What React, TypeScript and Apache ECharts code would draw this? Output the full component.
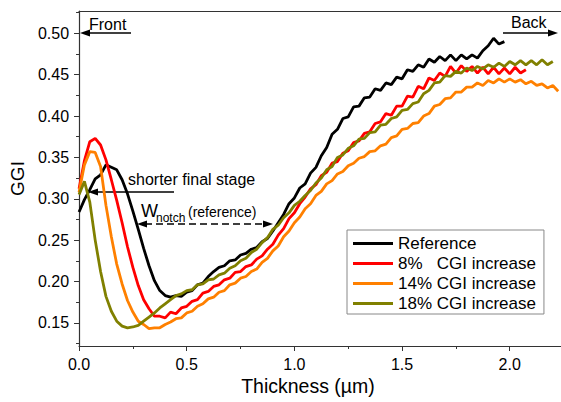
import React, { useEffect, useRef } from "react";
import * as echarts from "echarts";

const xGrid = [
  0.0, 0.025, 0.05, 0.075, 0.1, 0.125, 0.15, 0.175, 0.2, 0.225, 0.25, 0.275, 0.3, 0.325, 0.35, 0.375,
  0.4, 0.425, 0.45, 0.475, 0.5, 0.525, 0.55, 0.575, 0.6, 0.625, 0.65, 0.675, 0.7, 0.725, 0.75, 0.775,
  0.8, 0.825, 0.85, 0.875, 0.9, 0.925, 0.95, 0.975, 1.0, 1.025, 1.05, 1.075, 1.1, 1.125, 1.15, 1.175,
  1.2, 1.225, 1.25, 1.275, 1.3, 1.325, 1.35, 1.375, 1.4, 1.425, 1.45, 1.475, 1.5, 1.525, 1.55, 1.575,
  1.6, 1.625, 1.65, 1.675, 1.7, 1.725, 1.75, 1.775, 1.8, 1.825, 1.85, 1.875, 1.9, 1.925, 1.95, 1.975,
  2.0, 2.025, 2.05, 2.075, 2.1, 2.125, 2.15, 2.175, 2.2, 2.225,
];

const yTickValues = [0.15, 0.2, 0.25, 0.3, 0.35, 0.4, 0.45, 0.5];
const yMinorTickValues = [0.125, 0.175, 0.225, 0.275, 0.325, 0.375, 0.425, 0.475, 0.525];

const referenceGGI = [
  0.284, 0.299, 0.311, 0.324, 0.329, 0.341, 0.338, 0.335, 0.323, 0.306, 0.285, 0.263, 0.24, 0.219, 0.201, 0.189,
  0.183, 0.181, 0.183, 0.182, 0.187, 0.189, 0.196, 0.198, 0.206, 0.212, 0.217, 0.219, 0.225, 0.226, 0.232, 0.234,
  0.239, 0.241, 0.248, 0.252, 0.261, 0.271, 0.281, 0.294, 0.301, 0.313, 0.318, 0.331, 0.338, 0.352, 0.362, 0.378,
  0.384, 0.397, 0.399, 0.411, 0.412, 0.422, 0.423, 0.433, 0.431, 0.44, 0.438, 0.447, 0.445, 0.456, 0.454, 0.462,
  0.459, 0.469, 0.465, 0.472, 0.467, 0.474, 0.467, 0.474, 0.469, 0.474, 0.47, 0.479, 0.485, 0.494, 0.487, 0.49,
];

const cgi8GGI = [
  0.312, 0.346, 0.369, 0.373, 0.365, 0.347, 0.323, 0.298, 0.271, 0.242, 0.217, 0.195, 0.178, 0.167, 0.158, 0.158,
  0.156, 0.163, 0.161, 0.168, 0.17, 0.176, 0.178, 0.186, 0.188, 0.194, 0.196, 0.202, 0.204, 0.211, 0.212, 0.218,
  0.22, 0.227, 0.231, 0.239, 0.245, 0.256, 0.264, 0.276, 0.283, 0.294, 0.302, 0.312, 0.317, 0.328, 0.332, 0.343,
  0.345, 0.355, 0.358, 0.368, 0.37, 0.379, 0.381, 0.391, 0.393, 0.403, 0.401, 0.412, 0.412, 0.424, 0.423, 0.436,
  0.433, 0.446, 0.443, 0.452, 0.448, 0.46, 0.452, 0.461, 0.454, 0.46, 0.452, 0.459, 0.451, 0.459, 0.451, 0.458,
  0.451, 0.459, 0.452, 0.456,
];

const cgi14GGI = [
  0.308, 0.341, 0.357, 0.356, 0.339, 0.292, 0.254, 0.221, 0.197, 0.177, 0.163, 0.152, 0.148, 0.143, 0.144, 0.144,
  0.148, 0.151, 0.155, 0.156, 0.162, 0.164, 0.17, 0.173, 0.179, 0.181, 0.187, 0.189, 0.196, 0.198, 0.204, 0.206,
  0.212, 0.215, 0.223, 0.228, 0.237, 0.243, 0.254, 0.261, 0.271, 0.278, 0.288, 0.294, 0.304, 0.309, 0.318, 0.322,
  0.33, 0.333, 0.34, 0.343, 0.349, 0.351, 0.357, 0.358, 0.364, 0.366, 0.374, 0.376, 0.384, 0.385, 0.391, 0.392,
  0.4, 0.403, 0.412, 0.414, 0.421, 0.422, 0.429, 0.429, 0.435, 0.435, 0.44, 0.437, 0.443, 0.44, 0.445, 0.441,
  0.445, 0.441, 0.444, 0.439, 0.442, 0.437, 0.439, 0.434, 0.437, 0.43,
];

const cgi18GGI = [
  0.305, 0.321, 0.296, 0.25, 0.212, 0.182, 0.164, 0.152, 0.146, 0.144, 0.145, 0.147, 0.152, 0.157, 0.162, 0.168,
  0.173, 0.178, 0.183, 0.185, 0.189, 0.19, 0.196, 0.197, 0.202, 0.203, 0.208, 0.21, 0.216, 0.219, 0.225, 0.228,
  0.235, 0.239, 0.247, 0.253, 0.263, 0.268, 0.277, 0.283, 0.292, 0.297, 0.304, 0.31, 0.319, 0.325, 0.335, 0.339,
  0.35, 0.353, 0.361, 0.364, 0.372, 0.373, 0.38, 0.381, 0.389, 0.39, 0.397, 0.399, 0.407, 0.408, 0.415, 0.417,
  0.427, 0.431, 0.44, 0.441, 0.449, 0.448, 0.454, 0.452, 0.458, 0.455, 0.46, 0.457, 0.462, 0.459, 0.464, 0.46,
  0.466, 0.462, 0.467, 0.462, 0.467, 0.462, 0.468, 0.462, 0.466,
];

const seriesNames = ["Reference", "8%   CGI increase", "14% CGI increase", "18% CGI increase"];
const seriesColors = ["#000000", "#ff0000", "#ff8000", "#808000"];
const seriesValues = [referenceGGI, cgi8GGI, cgi14GGI, cgi18GGI];

const FONT = '"Liberation Sans", Arial, sans-serif';

function pairs(ys: number[]) {
  return ys.map((y, i) => [xGrid[i], y]);
}

export default function App() {
  const ref = useRef<HTMLDivElement>(null);
  useEffect(() => {
    if (!ref.current) return;
    const chart = echarts.init(ref.current, undefined, { renderer: "svg" });
    const axisColor = "#333333";
    const arrowColor = "#000000";
    const txt = (text: string, x: number, y: number, size: number, align = "left") => ({
      type: "text",
      x,
      y,
      silent: true,
      style: {
        text,
        fill: "#000",
        font: `${size}px ${FONT}`,
        textAlign: align,
        align,
        textVerticalAlign: "middle",
        verticalAlign: "middle",
      },
    });
    const line = (x1: number, y1: number, x2: number, y2: number, dash?: number[]) => ({
      type: "line",
      silent: true,
      shape: { x1, y1, x2, y2 },
      style: { stroke: arrowColor, lineWidth: 1.6, lineDash: dash },
    });
    const head = (tx: number, ty: number, dir: number) => ({
      type: "polygon",
      silent: true,
      shape: { points: [[tx, ty], [tx - dir * 10, ty - 3.5], [tx - dir * 10, ty + 3.5]] },
      style: { fill: arrowColor },
    });
    chart.setOption({
      animation: false,
      grid: { left: 79, right: 0, top: 11, bottom: 56, containLabel: false },
      legend: {
        left: 347,
        top: 230,
        orient: "vertical",
        data: seriesNames,
        icon: "rect",
        itemWidth: 40,
        itemHeight: 3,
        itemGap: 3,
        borderColor: "#888888",
        borderWidth: 1,
        borderRadius: 0,
        padding: [5, 8, 2, 6],
        textStyle: { fontSize: 17, fontFamily: FONT, color: "#000", lineHeight: 17 },
        selectedMode: false,
      },
      xAxis: [
        {
          type: "value",
          min: 0,
          max: 2.238,
          interval: 0.5,
          axisLine: { show: true, lineStyle: { color: axisColor, width: 1.2 } },
          axisTick: { show: true, length: 5, inside: false, lineStyle: { color: axisColor } },
          minorTick: { show: true, splitNumber: 2, length: 3, lineStyle: { color: axisColor } },
          splitLine: { show: false },
          axisLabel: {
            fontSize: 16,
            fontFamily: FONT,
            color: "#000",
            margin: 10,
            showMaxLabel: false,
            formatter: (v: number) => v.toFixed(1),
          },
        },
        {
          type: "value",
          position: "top",
          min: 0,
          max: 2.238,
          interval: 0.5,
          axisLine: { show: true, onZero: false, lineStyle: { color: axisColor, width: 1.2 } },
          axisTick: { show: false },
          axisLabel: { show: false },
          splitLine: { show: false },
        },
      ],
      yAxis: [
        {
          type: "value",
          min: 0.122,
          max: 0.527,
          name: "GGI",
          nameLocation: "middle",
          nameGap: 52,
          nameTextStyle: { fontSize: 19, fontFamily: FONT, color: "#000" },
          axisLine: { show: true, lineStyle: { color: axisColor, width: 1.2 } },
          axisTick: {
            show: true,
            length: 5,
            inside: false,
            customValues: yTickValues,
            lineStyle: { color: axisColor },
          },
          splitLine: { show: false },
          axisLabel: {
            fontSize: 16,
            fontFamily: FONT,
            color: "#000",
            margin: 10,
            customValues: yTickValues,
            formatter: (v: number) => v.toFixed(2),
          },
        },
        {
          type: "value",
          position: "left",
          min: 0.122,
          max: 0.527,
          axisLine: { show: false },
          axisTick: {
            show: true,
            length: 3,
            inside: false,
            customValues: yMinorTickValues,
            lineStyle: { color: axisColor },
          },
          axisLabel: { show: false },
          splitLine: { show: false },
        },
      ],
      series: seriesValues.map((vals, i) => ({
        name: seriesNames[i],
        type: "line",
        data: pairs(vals),
        showSymbol: false,
        symbol: "none",
        color: seriesColors[i],
        lineStyle: { color: seriesColors[i], width: 2.8 },
        clip: true,
      })),
      graphic: [
        txt("Thickness (\u00b5m)", 308, 386, 19.5, "center"),
        // Front arrow
        txt("Front", 89, 24, 16),
        line(84, 33, 131, 33),
        head(80, 33, -1),
        // Back arrow
        txt("Back", 511, 22, 16),
        line(503, 33, 550, 33),
        head(558, 33, 1),
        // shorter final stage
        txt("shorter final stage", 128, 179, 16),
        line(94, 192, 174, 192),
        head(88, 192, -1),
        // W notch (reference)
        txt("W", 141, 211, 18),
        txt("notch", 156, 218, 12),
        txt("(reference)", 188, 212, 14),
        line(145, 224, 265, 224, [7, 4]),
        head(137, 224, -1),
        head(273, 224, 1),
      ],
    });
    return () => chart.dispose();
  }, []);
  return <div ref={ref} style={{ width: 561, height: 402, position: "absolute", left: 0, top: 0 }} />;
}
